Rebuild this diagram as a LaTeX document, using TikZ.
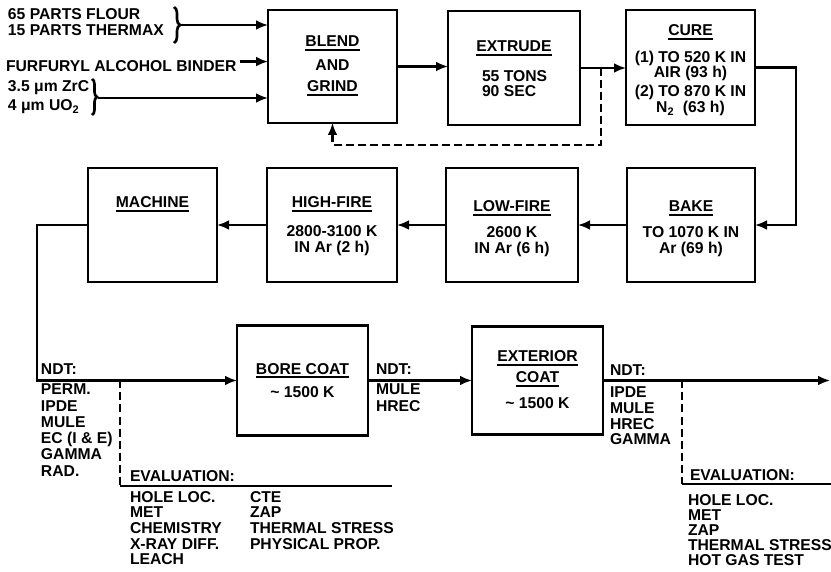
\documentclass[tikz,border=0pt]{standalone}
\usepackage{fontspec}
\setmainfont{Liberation Sans}
\usetikzlibrary{arrows.meta,decorations.pathreplacing}
\newcommand\ulx[1]{\setbox0\hbox{#1}\rlap{\rule[-4pt]{\wd0}{2pt}}\box0}
\newcommand\tld{\symbol{126}}
\begin{document}
\begin{tikzpicture}[x=1pt,y=-1pt,
  every node/.style={font=\bfseries\fontsize{15.7}{16}\selectfont, inner sep=0pt, outer sep=0pt},
  box/.style={draw, line width=2.8pt},
  conn/.style={line width=2.6pt},
  arr/.style={conn, -{Latex[length=12pt,width=10pt]}},
  dashline/.style={conn, dash pattern=on 8pt off 4pt},
  lbl/.style={anchor=base west},
  clbl/.style={anchor=base}
]
\useasboundingbox (0,0) rectangle (831,572);

% boxes
\node[box, minimum width=129pt, minimum height=113pt] (blend) at (332.5,66.5) {};
\node[box, minimum width=132pt, minimum height=114pt] (extrude) at (514,68) {};
\node[box, minimum width=129pt, minimum height=115pt] (cure) at (690.5,67.5) {};
\node[box, minimum width=129pt, minimum height=114pt] (machine) at (152.5,225) {};
\node[box, minimum width=130pt, minimum height=114pt] (highfire) at (332,225) {};
\node[box, minimum width=132pt, minimum height=114pt] (lowfire) at (512,225) {};
\node[box, minimum width=128pt, minimum height=114pt] (bake) at (691,225) {};
\node[box, minimum width=131pt, minimum height=110pt] (bore) at (302.5,380.5) {};
\node[box, minimum width=131pt, minimum height=108pt] (ext) at (537.5,380.5) {};

% inputs
\node[lbl] (in1) at (8,19.5) {65 PARTS FLOUR};
\node[lbl] (in2) at (8,36) {15 PARTS THERMAX};
\node[lbl] (binder) at (6,72) {FURFURYL ALCOHOL BINDER};
\node[lbl] (in3) at (8,92) {3.5 μm ZrC};
\node[lbl] (in4) at (8,111) {4 μm UO\textsubscript{2}};
\draw[conn, decorate, decoration={brace, amplitude=6pt}] (174,7) -- (174,43);
\draw[conn, decorate, decoration={brace, amplitude=5pt}] (92,79) -- (92,115);
\coordinate (br1) at (181,25);
\coordinate (br2) at (98,98);
\draw[arr] (br1) -- (br1 -| blend.west);
\draw[arr] ([xshift=3pt,yshift=5pt]binder.east) coordinate (bnd) -- (bnd -| blend.west);
\draw[arr] (br2) -- (br2 -| blend.west);

% box texts top row
\node[clbl] (t1) at (332.5,47) {\ulx{BLEND}};
\node[clbl] (t2) at (332.5,71) {AND};
\node[clbl] (t3) at (332.5,92) {\ulx{GRIND}};
\node[clbl] (t4) at (514,52) {\ulx{EXTRUDE}};
\node[lbl] (t5) at (482,82) {55 TONS};
\node[lbl] (t6) at (482,97) {90 SEC};
\node[clbl] (t7) at (690.5,36) {\ulx{CURE}};
\node[clbl] (t8) at (690.5,63) {(1) TO 520 K IN};
\node[clbl] (t9) at (690.5,78) {AIR (93 h)};
\node[clbl] (t10) at (690.5,97) {(2) TO 870 K IN};
\node[clbl] (t11) at (690.5,113) {N\textsubscript{2}\ \ (63 h)};

% second row texts
\node[clbl] (t12) at (152.5,208) {\ulx{MACHINE}};
\node[clbl] (t13) at (332,208) {\ulx{HIGH-FIRE}};
\node[clbl] (t14) at (332,237) {2800-3100 K};
\node[clbl] (t15) at (332,253) {IN Ar (2 h)};
\node[clbl] (t16) at (512,212) {\ulx{LOW-FIRE}};
\node[clbl] (t17) at (512,238) {2600 K};
\node[clbl] (t18) at (512,254) {IN Ar (6 h)};
\node[clbl] (t19) at (691,212) {\ulx{BAKE}};
\node[clbl] (t20) at (691,238) {TO 1070 K IN};
\node[clbl] (t21) at (691,254) {Ar (69 h)};

% bottom row texts
\node[clbl] (t22) at (302.5,374) {\ulx{BORE COAT}};
\node[clbl] (t23) at (302.5,398) {\tld\ 1500 K};
\node[clbl] (t24) at (537.5,362) {\ulx{EXTERIOR}};
\node[clbl] (t25) at (537.5,383) {\ulx{COAT}};
\node[clbl] (t26) at (537.5,408) {\tld\ 1500 K};

% top row connectors
\draw[arr] (blend.east) -- (blend.east -| extrude.west);
\draw[arr] (extrude.east) -- (extrude.east -| cure.west);
\coordinate (cr) at (796,67.5);
\draw[arr] (cure.east) -- (cr) |- (bake.east);
\coordinate (fb) at (601,68);
\coordinate (fb2) at (601,145);
\draw[dashline, -{Latex[length=12pt,width=10pt]}] (fb) -- (fb2) -| (blend.south);

% second row connectors
\draw[arr] (bake.west) -- (lowfire.east);
\draw[arr] (lowfire.west) -- (highfire.east);
\draw[arr] (highfire.west) -- (machine.east);
\coordinate (mc) at (37,225);
\draw[arr] (machine.west) -- (mc) |- (bore.west);
\draw[arr] (bore.east) -- (ext.west);
\coordinate (out) at (830,380.5);
\draw[arr] (ext.east) -- (out);

% NDT lists
\node[lbl] (ndt1) at (41,374) {NDT:};
\foreach \t [count=\i] in {PERM., IPDE, MULE, {EC (I \& E)}, GAMMA, RAD.}
  \node[lbl] (ndta\i) at (41,{395+16.2*(\i-1)}) {\t};
\node[lbl] (ndt2) at (376,374) {NDT:};
\foreach \t [count=\i] in {MULE, HREC}
  \node[lbl] (ndtb\i) at (376,{395+16*(\i-1)}) {\t};
\node[lbl] (ndt3) at (610,376) {NDT:};
\foreach \t [count=\i] in {IPDE, MULE, HREC, GAMMA}
  \node[lbl] (ndtc\i) at (610,{398+15.5*(\i-1)}) {\t};

% evaluation left
\coordinate (e1) at (120,380.5);
\coordinate (e2) at (120,486);
\coordinate (e3) at (392,486);
\draw[dashline] (e1) -- (e2);
\draw[conn] (e2) -- (e3);
\node[lbl] (ev1) at (130,481) {EVALUATION:};
\foreach \t [count=\i] in {HOLE LOC., MET, CHEMISTRY, X-RAY DIFF., LEACH}
  \node[lbl] (eva\i) at (130,{502+15.7*(\i-1)}) {\t};
\foreach \t [count=\i] in {CTE, ZAP, THERMAL STRESS, PHYSICAL PROP.}
  \node[lbl] (evb\i) at (250,{502+15.7*(\i-1)}) {\t};

% evaluation right
\coordinate (f1) at (682,380.5);
\coordinate (f2) at (682,484);
\coordinate (f3) at (831,484);
\draw[dashline] (f1) -- (f2);
\draw[conn] (f2) -- (f3);
\node[lbl] (ev2) at (690,480) {EVALUATION:};
\foreach \t [count=\i] in {HOLE LOC., MET, ZAP, THERMAL STRESS, HOT GAS TEST}
  \node[lbl] (evc\i) at (688,{505+15.2*(\i-1)}) {\t};
\end{tikzpicture}
\end{document}
